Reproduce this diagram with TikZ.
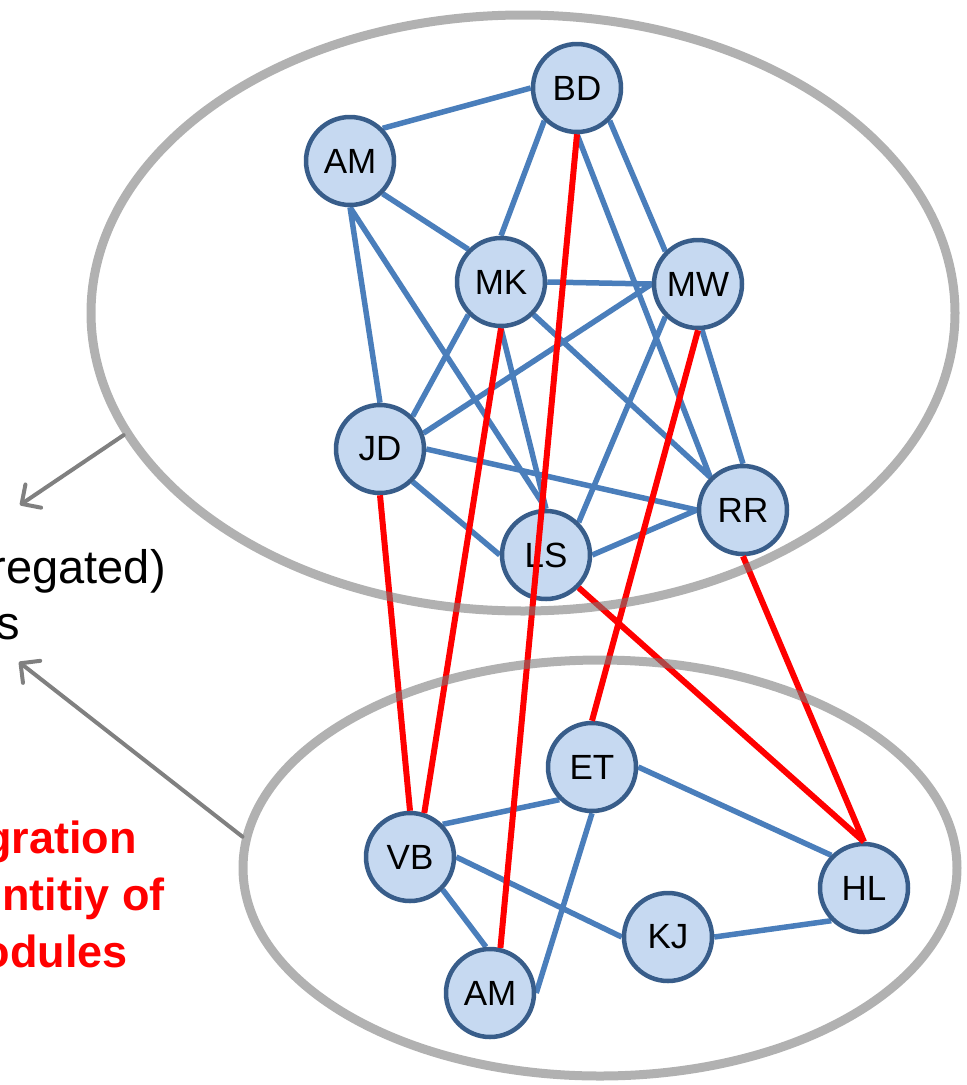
\documentclass[tikz,border=0pt]{standalone}
\usepackage{fontspec}
\setmainfont{Liberation Sans}
\usetikzlibrary{arrows.meta,shapes.geometric,backgrounds}

\definecolor{nodefill}{RGB}{198,217,241}
\definecolor{nodeline}{RGB}{56,93,138}
\definecolor{linkblue}{RGB}{74,126,187}
\definecolor{ringgray}{RGB}{121,121,121}
\definecolor{arrowgray}{RGB}{128,128,128}

\begin{document}
\begin{tikzpicture}[x=1pt,y=-1pt,
  person/.style={draw=nodeline, fill=nodefill, circle, line width=4.5pt,
    minimum size=88pt, inner sep=0pt, font=\fontsize{35}{40}\selectfont},
  tie/.style={draw=linkblue, line width=5.5pt},
  cross/.style={draw=red, line width=6pt},
  ring/.style={draw=ringgray, draw opacity=.58, ellipse, line width=9pt, inner sep=0pt},
  pointer/.style={draw=arrowgray, line width=4pt, line cap=round,
    -{Straight Barb[length=14pt,width=28pt,round]}},
  note/.style={inner sep=0pt, anchor=base east, font=\fontsize{47}{55}\selectfont},
  claim/.style={inner sep=0pt, anchor=base east, text=red, font=\fontsize{45}{55}\selectfont\bfseries}]
\useasboundingbox (0,0) rectangle (967,1085);

% upper group
\node (BD) at (577,88) [person] {BD};
\node (AM) at (350,161) [person] {AM};
\node (MK) at (501,282) [person] {MK};
\node (MW) at (698,284) [person] {MW};
\node (JD) at (380,449) [person] {JD};
\node (LS) at (546,555) [person] {LS};
\node (RR) at (743,510) [person] {RR};

% lower group
\node (ET) at (592,767) [person] {ET};
\node (VB) at (410,857) [person] {VB};
\node (HL) at (864,888) [person] {HL};
\node (KJ) at (668,937) [person] {KJ};
\node (AM2) at (490,993) [person] {AM};

\begin{scope}[on background layer]
\draw[tie]
(AM.45) to (BD.west)
(AM.-45) to (MK.135)
(AM.south) to (JD.north)
(AM.south) to (LS.north)
(BD.-135) to (MK.north)
(BD.-45) to (MW.135)
(BD.south) to (RR.135)
(MK.east) to (MW.west)
(MK.-135) to (JD.45)
(MK.south) to (LS.north)
(MK.-45) to (RR.135)
(MW.west) to (JD.20)
(MW.-135) to (LS.45)
(MW.-85) to (RR.north)
(JD.east) to (RR.west)
(JD.-45) to (LS.west)
(LS.east) to (RR.west);

\draw[tie]
(VB.45) to (ET.-135)
(VB.east) to (KJ.west)
(VB.-45) to (AM2.95)
(ET.east) to (HL.135)
(ET.south) to (AM2.east)
(KJ.east) to (HL.-135);
\end{scope}

% links between the groups
\draw[cross]
(BD.south) to (AM2.77)
(MK.south) to (VB.72)
(JD.south) to (VB.north)
(MW.south) to (ET.north)
(LS.-45) to (HL.north)
(RR.south) to (HL.north);

\node (upper) at (523,313) [ring, minimum width=864pt, minimum height=596pt] {};
\node (lower) at (600,868) [ring, minimum width=714pt, minimum height=416pt] {};

\node (seg1) at (166,583) [note] {regated)};
\node (seg2) at (20,639) [note] {s};
\node (int1) at (137,853) [claim] {gration};
\node (int2) at (165,910) [claim] {ntitiy of};
\node (int3) at (128,967) [claim] {odules};

\coordinate (tip1) at (20,505);
\coordinate (tip2) at (19,662);
\draw[pointer] (upper.197) -- (tip1);
\draw[pointer] (lower.175.5) -- (tip2);
\end{tikzpicture}
\end{document}
